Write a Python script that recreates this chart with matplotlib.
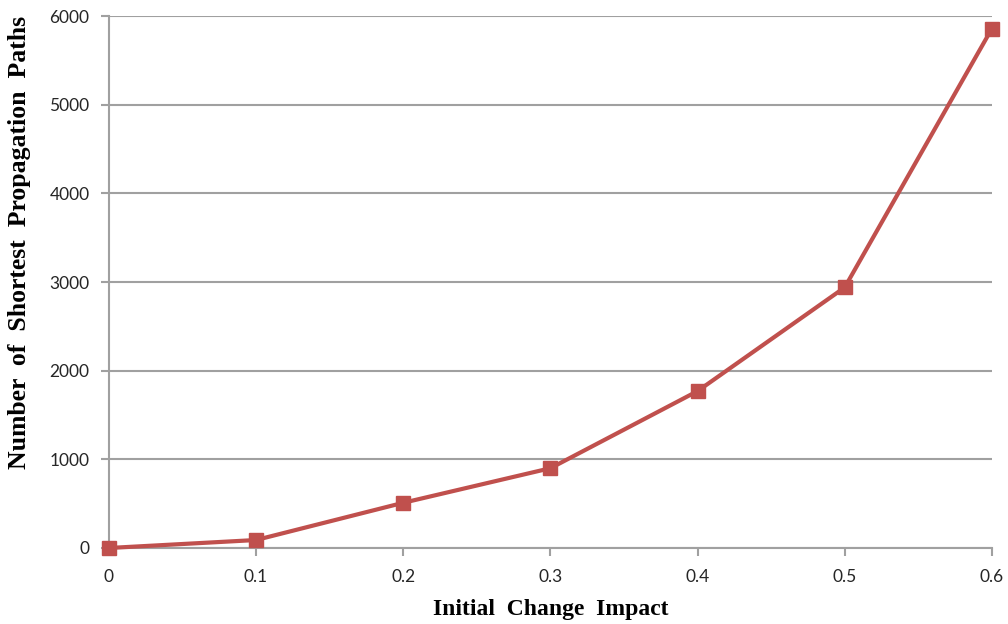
import matplotlib
matplotlib.use("Agg")
import matplotlib.pyplot as plt

# Initial change impact vs. number of shortest propagation paths
impact = [0, 0.1, 0.2, 0.3, 0.4, 0.5, 0.6]
paths = [0, 90, 510, 900, 1770, 2940, 5860]
x_ticks = [0, 0.1, 0.2, 0.3, 0.4, 0.5, 0.6]
x_tick_labels = ["0", "0.1", "0.2", "0.3", "0.4", "0.5", "0.6"]
y_ticks = [0, 1000, 2000, 3000, 4000, 5000, 6000]

line_color = "#C0504D"
grid_color = "#A0A0A0"

fig = plt.figure(figsize=(10.08, 6.24), dpi=100)
ax = fig.add_axes([0.108, 0.1218, 0.876, 0.8522])

ax.plot(impact, paths, color=line_color, linewidth=3, marker="s",
        markersize=10, markerfacecolor=line_color, markeredgecolor=line_color,
        clip_on=False, zorder=3)

ax.set_xlim(0, 0.6)
ax.set_ylim(0, 6000)
ax.set_xticks(x_ticks)
ax.set_xticklabels(x_tick_labels)
ax.set_yticks(y_ticks)

ax.yaxis.grid(True, color=grid_color, linewidth=1.5)
ax.set_axisbelow(True)
for side in ("top", "right"):
    ax.spines[side].set_visible(False)
for side in ("left", "bottom"):
    ax.spines[side].set_color(grid_color)
    ax.spines[side].set_linewidth(1.5)

ax.tick_params(axis="y", length=6, width=1.5, color=grid_color, pad=8,
               labelsize=12.5, labelcolor="#262626")
ax.tick_params(axis="x", length=6, width=1.5, color=grid_color, pad=9,
               labelsize=12.5, labelcolor="#262626")
for lbl in ax.get_xticklabels() + ax.get_yticklabels():
    lbl.set_fontfamily("Lato")

ax.set_xlabel("Initial  Change  Impact", fontfamily="Liberation Serif",
              fontweight="bold", fontsize=17, labelpad=10)
ax.set_ylabel("Number  of  Shortest  Propagation  Paths",
              fontfamily="Liberation Serif", fontweight="bold", fontsize=18.5)
ax.yaxis.set_label_coords(-0.088, 0.574)

fig.savefig("out.png", dpi=100)
